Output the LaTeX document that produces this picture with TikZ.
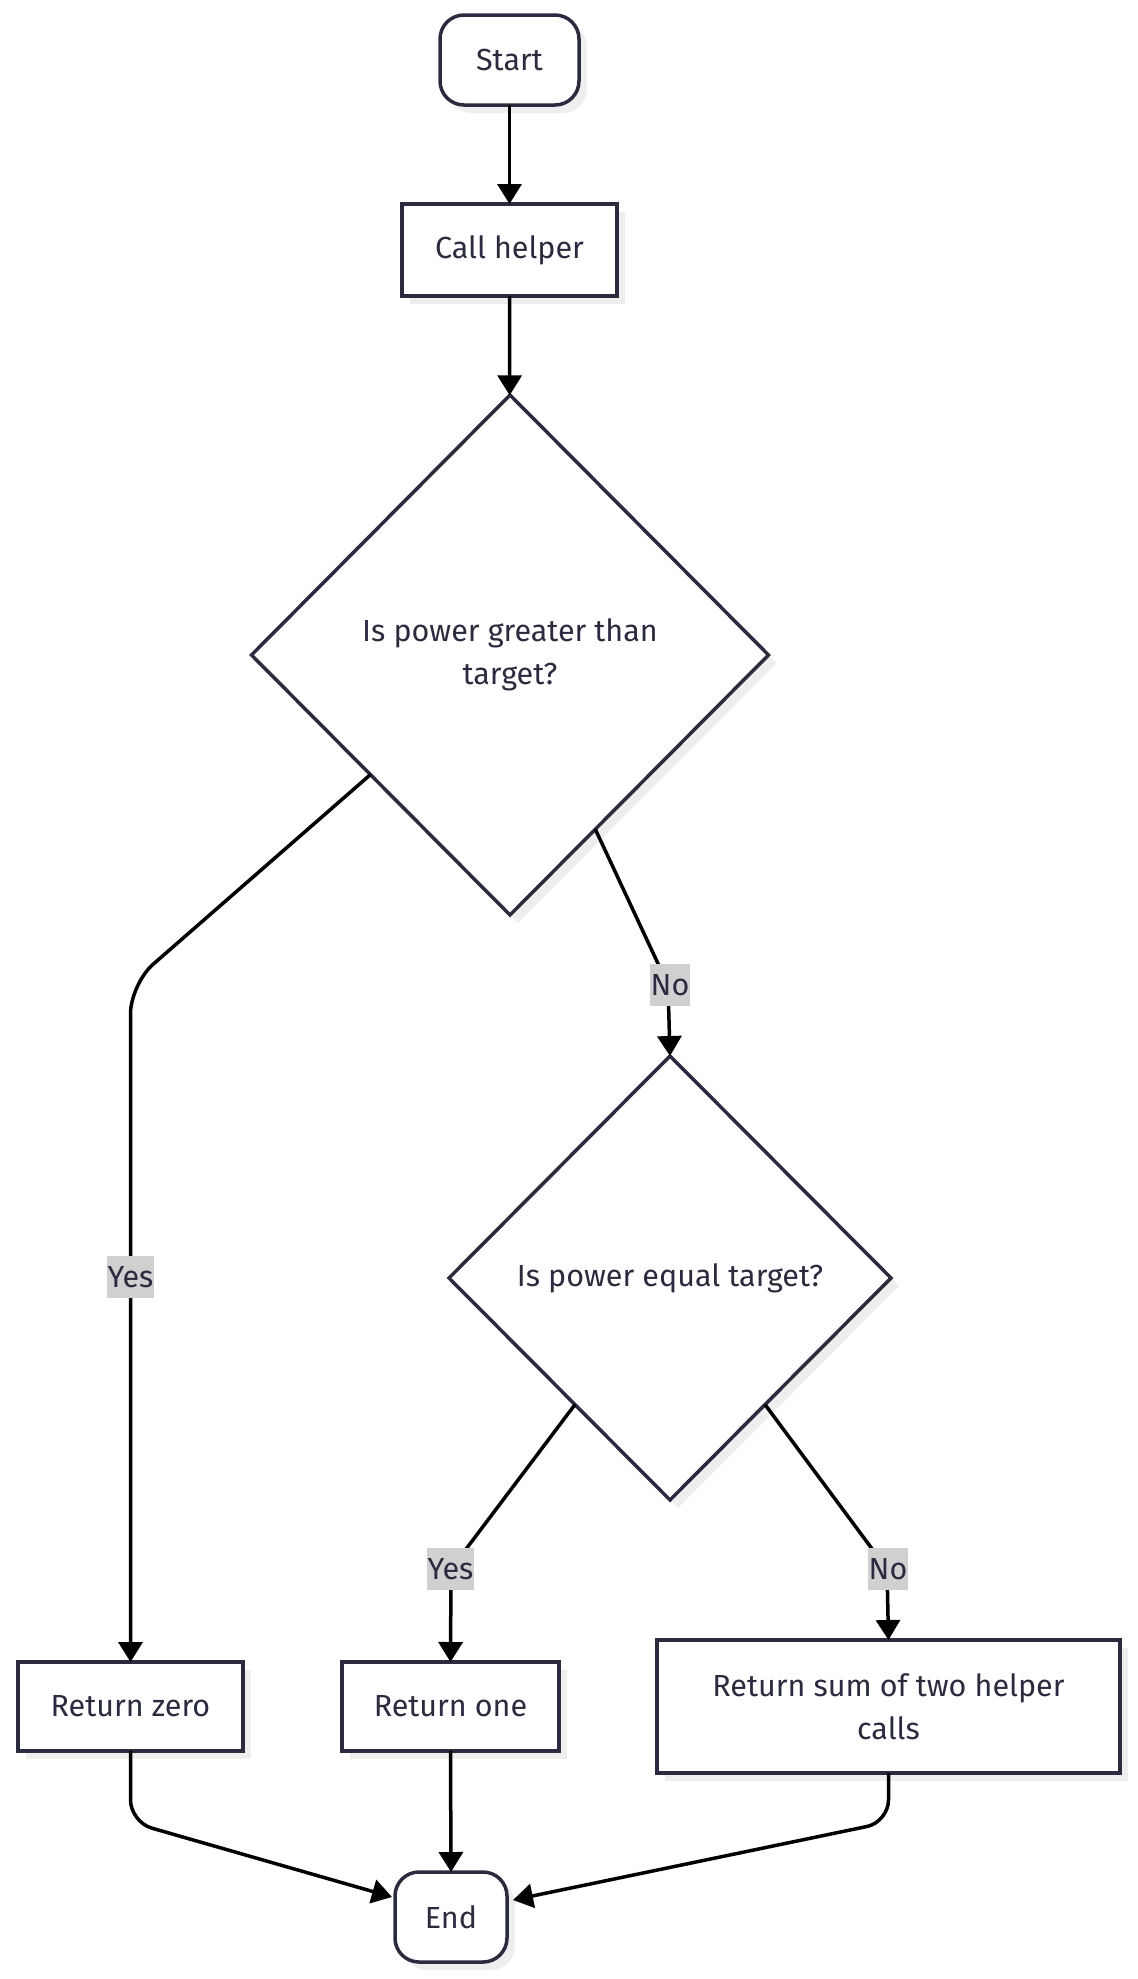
\documentclass[tikz,border=0pt]{standalone}
\usepackage{fontspec}
\setmainfont{Fira Sans}
\usetikzlibrary{shapes.geometric,arrows.meta,calc,shadows}
\definecolor{ink}{HTML}{2B2B40}
\definecolor{shade}{HTML}{EEEEEE}
\definecolor{lab}{HTML}{D0D0D0}
\begin{document}
\begin{tikzpicture}[x=1pt,y=-1pt,
 base/.style={draw=ink, line width=3.5pt, fill=white, text=ink, font=\fontsize{30.5}{43}\selectfont, align=center, inner sep=0pt, outer sep=0pt, drop shadow={shadow xshift=8pt, shadow yshift=-8pt, fill=shade, opacity=1}},
 term/.style={base, rounded corners=24pt},
 proc/.style={base},
 dec/.style={base, diamond},
 conn/.style={line width=3.5pt, draw=black, -{Triangle[length=20pt,width=24pt]}},
 lbl/.style={fill=lab, text=ink, font=\fontsize{30.5}{36}\selectfont, inner xsep=1pt, inner ysep=0pt, minimum height=42pt}
]
\useasboundingbox (0,0) rectangle (1138,1979);
\node[term, minimum width=139pt, minimum height=90pt] (start) at (509.5,60) {Start};
\node[proc, minimum width=215pt, minimum height=92pt] (call) at (509.5,250) {Call helper};
\node[dec, minimum width=517pt, minimum height=520pt] (d1) at (510,655) {Is power greater than\\target?};
\node[dec, minimum width=442pt, minimum height=444pt] (d2) at (670,1278) {Is power equal target?};
\node[proc, minimum width=225pt, minimum height=89pt] (rz) at (130.5,1706.5) {Return zero};
\node[proc, minimum width=217pt, minimum height=89pt] (ro) at (450.5,1706.5) {Return one};
\node[proc, minimum width=463pt, minimum height=133pt] (rs) at (888.5,1706.5) {Return sum of two helper\\calls};
\node[term, minimum width=112pt, minimum height=90pt] (end) at (451,1917) {End};

\coordinate (p0) at ($(d1.west)!0.46!(d1.south)$);
\coordinate (p1) at ($(d1.east)!0.67!(d1.south)$);
\coordinate (p2) at ($(d2.west)!0.57!(d2.south)$);
\coordinate (p3) at ($(d2.east)!0.57!(d2.south)$);
\coordinate (c1) at (130.5,984);
\coordinate (c2) at (668,985);
\coordinate (c3) at (451,1569);
\coordinate (c4) at (887,1569);
\coordinate (c5) at (130.5,1822);
\coordinate (c6) at (888.5,1822);
\coordinate (e1) at (392,1897);
\coordinate (e2) at (513,1900);

\draw[conn] (start) -- (call);
\draw[conn] (call) -- (d1);
\draw[conn, rounded corners=30pt] (p0) -- (c1) -- (rz.north);
\draw[conn, rounded corners=15pt] (p1) -- (c2) -- (d2.north);
\draw[conn, rounded corners=12pt] (p2) -- (c3) -- (ro.north);
\draw[conn, rounded corners=12pt] (p3) -- (c4) -- (rs.north);
\draw[conn, rounded corners=22pt] (rz.south) -- (c5) -- (e1);
\draw[conn] (ro.south) -- (end.north);
\draw[conn, rounded corners=22pt] (rs.south) -- (c6) -- (e2);

\node[lbl] (ly1) at (130.5,1277) {Yes};
\node[lbl] (ln1) at (670,985) {No};
\node[lbl] (ly2) at (450.5,1569) {Yes};
\node[lbl] (ln2) at (888,1569) {No};
\end{tikzpicture}
\end{document}
